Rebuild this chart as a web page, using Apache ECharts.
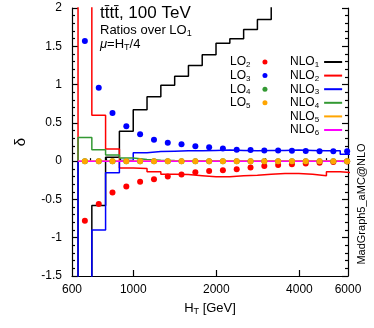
<!DOCTYPE html>
<html><head><meta charset="utf-8">
<script src="https://cdn.jsdelivr.net/npm/echarts@6/dist/echarts.min.js"></script>
<style>html,body{margin:0;padding:0;background:#fff}#c{width:374px;height:328px}</style>
</head><body><div id="c"></div>
<script>
// bin edges (GeV) and bin centres
const binEdges = [631,708,794,891,1000,1122,1259,1413,1585,1778,1995,2239,2512,2818,3162,3548,3981,4467,5012,5623,6310];
const binCenters = [668,750,841,944,1059,1189,1334,1496,1679,1884,2113,2371,2661,2985,3350,3758,4217,4732,5309,5957];

// NLO histograms (one value per bin)
const nlo1 = [-3.0,-0.58,0.05,0.39,0.67,0.84,0.99,1.11,1.25,1.39,1.54,1.60,1.72,1.85,2.05,2.2,2.4,2.6,2.8,3.0];
const nlo2 = [3.0,0.60,0.16,-0.09,-0.095,-0.14,-0.17,-0.175,-0.19,-0.205,-0.205,-0.19,-0.183,-0.17,-0.16,-0.16,-0.17,-0.19,-0.14,-0.15];
const nlo3 = [-3.0,-0.90,-0.15,0.01,0.11,0.125,0.13,0.135,0.135,0.14,0.145,0.14,0.135,0.14,0.14,0.145,0.14,0.135,0.135,0.09];
const nlo4 = [0.31,0.15,0.08,0.04,0.02,0.012,0.008,0.006,0.005,0.004,0.004,0.003,0.003,0.003,0.003,0.003,0.003,0.003,0.003,0.003];
const nlo5 = [0.001,0.001,0.001,0.001,0.001,0.001,0.001,0.001,0.001,0.001,0.001,0.001,0.001,0.001,0.001,0.001,0.001,0.001,0.001,0.001];
const nlo6 = [0,0,0,0,0,0,0,0,0,0,0,0,0,0,0,0,0,0,0,0];

// LO points (one value per bin centre)
const lo2 = [-0.78,-0.56,-0.41,-0.33,-0.27,-0.235,-0.20,-0.175,-0.145,-0.13,-0.118,-0.105,-0.083,-0.065,-0.052,-0.04,-0.03,-0.02,-0.01,-0.005];
const lo3 = [1.57,0.96,0.63,0.457,0.35,0.28,0.24,0.22,0.196,0.18,0.165,0.15,0.145,0.14,0.14,0.135,0.133,0.13,0.13,0.13];
const lo4 = [0,0,0,0,0,0,0,0,0,0,0,0,0,0,0,0,0,0,0,0];
const lo5 = [0,0,0,0,0,0,0,0,0,0,0,0,0,0,0,0,0,0,0,0];

// axis ticks
const xLabelValues = [600,1000,2000,4000,6000];
const xMajorTicks = [1000,2000,4000];
const xMinorTicks = [700,800,900,3000,5000];

const FONT = 'Liberation Sans';
const colors = {NLO1:'#000000',NLO2:'#ff0000',NLO3:'#0000ff',NLO4:'#339933',NLO5:'#ffa500',NLO6:'#ff00ff',
                LO2:'#ff0000',LO3:'#0000ff',LO4:'#339933',LO5:'#ffa500'};

function stepData(vals){
  const d = [[binEdges[0], 0]];
  vals.forEach((v,i)=>d.push([binEdges[i+1], v]));
  return d;
}
function pointData(vals){ return vals.map((v,i)=>[binCenters[i], v]); }

function makeRich(fs, ss){
  return {
    n:{fontFamily:FONT,fontSize:fs,fontWeight:'normal',color:'#000',lineHeight:fs+2},
    i:{fontFamily:FONT,fontSize:fs,fontWeight:'normal',fontStyle:'italic',color:'#000',lineHeight:fs+2},
    s:{fontFamily:FONT,fontSize:ss,fontWeight:'normal',color:'#000',lineHeight:ss,verticalAlign:'bottom'},
    g:{width:7}
  };
}
const rich = makeRich(12,8);
function sub(name){
  const m = name.match(/^([A-Z]+)(\d)$/);
  return '{n|'+m[1]+'}{s|'+m[2]+'}';
}

const lineSeries = [['NLO1',nlo1],['NLO2',nlo2],['NLO3',nlo3],['NLO4',nlo4],['NLO5',nlo5],['NLO6',nlo6]].map(([n,v])=>({
  name:n,type:'line',step:'start',data:stepData(v),symbol:'none',
  lineStyle:{color:colors[n],width:1.5},itemStyle:{color:colors[n]},clip:true,animation:false,z:2
}));
const dotSeries = [['LO2',lo2],['LO3',lo3],['LO4',lo4],['LO5',lo5]].map(([n,v])=>({
  name:n,type:'scatter',data:pointData(v),symbol:'circle',symbolSize:6,
  itemStyle:{color:colors[n],opacity:1},clip:true,animation:false,z:3
}));

const legends = [];
['LO2','LO3','LO4','LO5'].forEach((n,i)=>{
  legends.push({data:[n],left:230,top:56+13.6*i,padding:0,align:'right',icon:'circle',itemWidth:5,itemHeight:5,
    selectedMode:false,formatter:(nm)=>sub(nm)+'{g|}',textStyle:{fontWeight:'normal',rich:rich}});
});
['NLO1','NLO2','NLO3','NLO4','NLO5','NLO6'].forEach((n,i)=>{
  legends.push({data:[n],left:290,top:56+13.6*i,padding:0,align:'right',icon:'rect',itemWidth:18,itemHeight:2,
    selectedMode:false,formatter:(nm)=>sub(nm),textStyle:{fontWeight:'normal',rich:rich}});
});

const baseX = {type:'log',logBase:10,min:600,max:6000,position:'bottom',splitLine:{show:false}};
const titleRich = makeRich(13,9);
const option = {
  animation:false,
  backgroundColor:'#fff',
  grid:{left:72,right:26,top:8,bottom:52,containLabel:false},
  title:[
    {text:'tt\u0304tt\u0304, 100 TeV',left:100,top:5,padding:0,textStyle:{fontFamily:FONT,fontSize:17,fontWeight:'normal',color:'#000'}},
    {text:'{n|Ratios over LO}{s|1}',left:100,top:23,padding:0,textStyle:{fontWeight:'normal',rich:titleRich}},
    {text:'{i|\u03bc}{n|=H}{s|T}{n|/4}',left:100,top:37,padding:0,textStyle:{fontWeight:'normal',rich:titleRich}}
  ],
  legend:legends,
  xAxis:[
    Object.assign({},baseX,{
      name:'{n|H}{s|T}{n| [GeV]}',nameLocation:'middle',nameGap:25,
      nameTextStyle:{fontWeight:'normal',rich:makeRich(13,9)},
      axisLine:{show:true,onZero:false,lineStyle:{color:'#000',width:1.2}},
      axisTick:{show:true,inside:true,length:6,customValues:xMajorTicks,lineStyle:{color:'#000',width:1.2}},
      axisLabel:{show:true,customValues:xLabelValues,margin:8,fontFamily:FONT,fontSize:12,color:'#000',formatter:(v)=>String(Math.round(v))}
    }),
    Object.assign({},baseX,{
      axisLine:{show:false},
      axisTick:{show:true,inside:true,length:3,customValues:xMinorTicks,lineStyle:{color:'#000',width:1.2}},
      axisLabel:{show:false}
    })
  ],
  yAxis:[
    {type:'value',min:-1.5,max:2,interval:0.5,position:'left',
      name:'\u03b4',nameLocation:'middle',nameGap:44,nameRotate:90,
      nameTextStyle:{fontFamily:FONT,fontSize:15,color:'#000'},
      splitLine:{show:false},
      axisLine:{show:true,onZero:false,lineStyle:{color:'#000',width:1.2}},
      axisTick:{show:true,inside:true,length:6,lineStyle:{color:'#000',width:1.2}},
      minorTick:{show:true,splitNumber:5,length:3,lineStyle:{color:'#000',width:1.2}},
      axisLabel:{margin:10,fontFamily:FONT,fontSize:12,color:'#000'}
    },
    {type:'value',min:-1.5,max:2,interval:0.5,position:'right',
      splitLine:{show:false},
      axisLine:{show:true,onZero:false,lineStyle:{color:'#000',width:1.2}},
      axisTick:{show:true,inside:true,length:6,lineStyle:{color:'#000',width:1.2}},
      minorTick:{show:true,splitNumber:5,length:3,lineStyle:{color:'#000',width:1.2}},
      axisLabel:{show:false}
    }
  ],
  graphic:[
    {type:'text',x:362,y:204,rotation:Math.PI/2,
      style:{text:'MadGraph5_aMC@NLO',fontFamily:FONT,fontSize:11,fill:'#000',align:'center',verticalAlign:'middle'}}
  ],
  series:lineSeries.concat(dotSeries)
};
const chart = echarts.init(document.getElementById('c'),null,{renderer:'canvas'});
chart.setOption(option);
</script></body></html>
